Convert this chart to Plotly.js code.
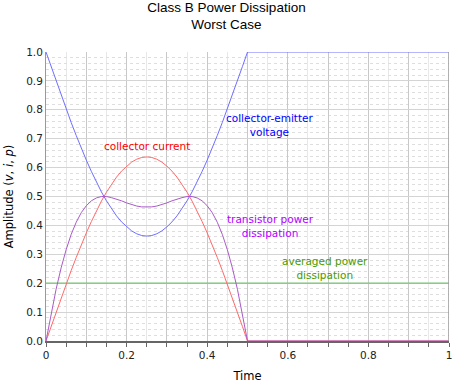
<!DOCTYPE html>
<html>
<head>
<meta charset="utf-8">
<script src="https://cdn.plot.ly/plotly-3.0.1.min.js"></script>
<style>html,body{margin:0;padding:0;background:#fff;}#chart{width:453px;height:383px;}</style>
</head>
<body>
<div id="chart"></div>
<script>
// Time samples (first half cycle, then the off half)
const time = [0, 0.0125, 0.025, 0.0375, 0.05, 0.0625, 0.075, 0.0875, 0.1, 0.1125, 0.125,
              0.1375, 0.15, 0.1625, 0.175, 0.1875, 0.2, 0.2125, 0.225, 0.2375, 0.25,
              0.2625, 0.275, 0.2875, 0.3, 0.3125, 0.325, 0.3375, 0.35, 0.3625, 0.375,
              0.3875, 0.4, 0.4125, 0.425, 0.4375, 0.45, 0.4625, 0.475, 0.4875, 0.5, 1.0];
// Collector current i
const current = [0, 0.050, 0.100, 0.149, 0.197, 0.244, 0.289, 0.333, 0.374, 0.413, 0.450,
                 0.484, 0.515, 0.543, 0.567, 0.588, 0.605, 0.619, 0.629, 0.635, 0.637,
                 0.635, 0.629, 0.619, 0.605, 0.588, 0.567, 0.543, 0.515, 0.484, 0.450,
                 0.413, 0.374, 0.333, 0.289, 0.244, 0.197, 0.149, 0.100, 0.050, 0, 0];
// Collector-emitter voltage v
const voltage = [1.0, 0.950, 0.900, 0.851, 0.803, 0.756, 0.711, 0.667, 0.626, 0.587, 0.550,
                 0.516, 0.485, 0.457, 0.433, 0.412, 0.395, 0.381, 0.371, 0.365, 0.363,
                 0.365, 0.371, 0.381, 0.395, 0.412, 0.433, 0.457, 0.485, 0.516, 0.550,
                 0.587, 0.626, 0.667, 0.711, 0.756, 0.803, 0.851, 0.900, 0.950, 1.0, 1.0];
// Transistor power dissipation p
const power = [0, 0.095, 0.179, 0.253, 0.316, 0.369, 0.411, 0.444, 0.468, 0.485, 0.495,
               0.500, 0.500, 0.496, 0.491, 0.485, 0.478, 0.472, 0.467, 0.464, 0.463,
               0.464, 0.467, 0.472, 0.478, 0.485, 0.491, 0.496, 0.500, 0.500, 0.495,
               0.485, 0.468, 0.444, 0.411, 0.369, 0.316, 0.253, 0.179, 0.095, 0, 0];
// Averaged power dissipation
const avgTime = [0, 1];
const avgPower = [0.2, 0.2];

const xTickVals = [0, 0.1, 0.2, 0.3, 0.4, 0.5, 0.6, 0.7, 0.8, 0.9, 1];
const xTickText = ['0', '', '0.2', '', '0.4', '', '0.6', '', '0.8', '', '1'];

const tickFont = {family: 'DejaVu Sans, Verdana, sans-serif', size: 10.5, color: '#222'};
const annFont = {family: 'DejaVu Sans, Verdana, sans-serif', size: 10.5};

const traces = [
  {x: avgTime, y: avgPower, mode: 'lines', line: {color: 'rgb(120,195,120)', width: 1.2}},
  {x: time, y: voltage, mode: 'lines', line: {color: 'rgb(110,110,255)', width: 1}},
  {x: time, y: current, mode: 'lines', line: {color: 'rgb(255,105,105)', width: 1}},
  {x: time, y: power, mode: 'lines', line: {color: 'rgb(170,90,200)', width: 1}}
];

const layout = {
  width: 453, height: 383,
  margin: {l: 46, r: 4, t: 52, b: 42},
  paper_bgcolor: '#fff', plot_bgcolor: '#fff',
  showlegend: false,
  title: {
    text: 'Class B Power Dissipation<br>Worst Case',
    x: 0.5, xref: 'container', xanchor: 'center',
    y: 0.97, yref: 'container', yanchor: 'top',
    font: {family: 'Liberation Sans, Arial, sans-serif', size: 13.5, color: '#000'}
  },
  xaxis: {
    range: [0, 1], tickmode: 'array', tickvals: xTickVals, ticktext: xTickText,
    showgrid: true, gridcolor: '#c8c8c8', gridwidth: 1,
    showline: true, linecolor: '#666', linewidth: 1.5,
    ticks: 'outside', ticklen: 4, tickcolor: '#666',
    tickfont: tickFont, zeroline: false,
    minor: {dtick: 0.05, showgrid: true, gridcolor: '#e8e8e8', ticks: 'outside', ticklen: 4, tickcolor: '#666'},
    title: {text: 'Time', font: {family: 'DejaVu Sans, Verdana, sans-serif', size: 11.5, color: '#000'}, standoff: 14}
  },
  yaxis: {
    range: [0, 1], dtick: 0.1, tickformat: '.1f',
    showgrid: true, gridcolor: '#d4d4d4', gridwidth: 1,
    showline: true, linecolor: '#999', linewidth: 1,
    ticks: '', tickfont: tickFont, zeroline: false,
    minor: {dtick: 0.02, showgrid: true, gridcolor: '#dedede', griddash: 'dot'},
    title: {text: 'Amplitude (<i>v</i>, <i>i</i>, <i>p</i>)', font: {family: 'DejaVu Sans, Verdana, sans-serif', size: 11.5, color: '#000'}, standoff: 10}
  },
  shapes: [
    {type: 'line', xref: 'x', yref: 'paper', x0: 1, x1: 1, y0: 0, y1: 1, line: {color: '#999', width: 1.5}}
  ],
  annotations: [
    {x: 0.251, y: 0.675, xref: 'x', yref: 'y', text: 'collector current', showarrow: false, font: Object.assign({color: '#ff0000'}, annFont)},
    {x: 0.556, y: 0.749, xref: 'x', yref: 'y', text: 'collector-emitter<br>voltage', showarrow: false, font: Object.assign({color: '#0000ff'}, annFont)},
    {x: 0.556, y: 0.398, xref: 'x', yref: 'y', text: 'transistor power<br>dissipation', showarrow: false, font: Object.assign({color: '#b000ff'}, annFont)},
    {x: 0.692, y: 0.253, xref: 'x', yref: 'y', text: 'averaged power<br>dissipation', showarrow: false, font: Object.assign({color: '#4a9a00'}, annFont)}
  ]
};

Plotly.newPlot('chart', traces, layout, {displayModeBar: false, staticPlot: true});
</script>
</body>
</html>
